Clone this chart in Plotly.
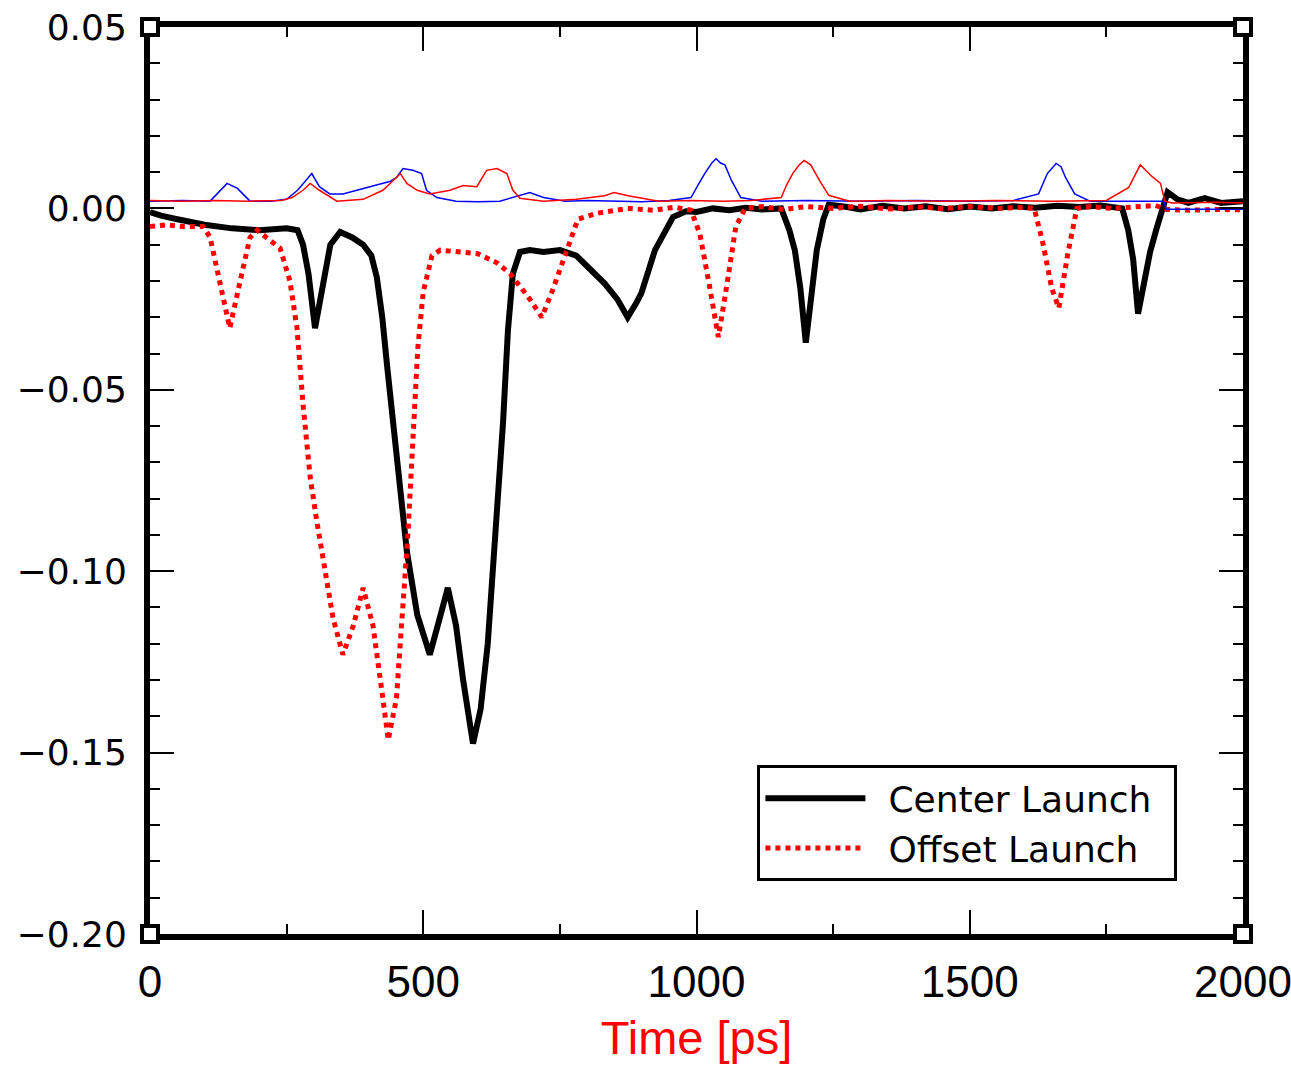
import plotly.graph_objects as go

# Center Launch (black, thick)
center_t = [0, 20, 50, 100, 150, 200, 250, 270, 280, 290, 302, 315, 330, 348, 370, 390, 405, 415, 425,
            434, 452, 470, 489, 512, 530, 545, 560, 573, 591, 605, 618, 635, 646, 655, 664, 677, 695, 720,
            750, 780, 800, 832, 855, 874, 890, 899, 924, 957, 981, 1000, 1030, 1060, 1090, 1120, 1155, 1170,
            1180, 1190, 1200, 1210, 1220, 1232, 1242, 1270, 1300, 1340, 1380, 1420, 1460, 1500, 1540, 1580,
            1620, 1660, 1700, 1740, 1779, 1790, 1799, 1808, 1820, 1830, 1841, 1857, 1862, 1880, 1900, 1930,
            1960, 2000]
center_v = [-0.001, -0.002, -0.003, -0.0045, -0.0055, -0.006, -0.0055, -0.006, -0.010, -0.018, -0.033,
            -0.022, -0.010, -0.0065, -0.008, -0.010, -0.013, -0.019, -0.030, -0.0436, -0.069, -0.0945,
            -0.112, -0.123, -0.113, -0.1046, -0.115, -0.130, -0.1475, -0.138, -0.120, -0.084, -0.059,
            -0.0335, -0.018, -0.012, -0.0115, -0.012, -0.0115, -0.013, -0.016, -0.0207, -0.025, -0.030,
            -0.026, -0.0234, -0.0115, -0.0024, -0.0008, -0.001, 0.0, -0.0005, 0.0002, -0.0003, 0.0, -0.006,
            -0.0116, -0.022, -0.037, -0.024, -0.0116, -0.003, 0.001, 0.0005, -0.0003, 0.0007, 0.0, 0.0006,
            -0.0002, 0.0005, 0.0, 0.0006, 0.0002, 0.0007, 0.0004, 0.0008, 0.0, -0.006, -0.014, -0.029,
            -0.020, -0.012, -0.006, 0.002, 0.0045, 0.0025, 0.0015, 0.0028, 0.0015, 0.002]

# Offset Launch (red, thick dotted)
offset_t = [0, 30, 60, 97, 110, 128, 146, 165, 183, 196, 220, 238, 256, 269, 280, 293, 305, 317, 335, 353,
            372, 390, 408, 426, 436, 451, 463, 472, 481, 490, 500, 516, 531, 560, 600, 635, 659, 695, 717,
            738, 763, 783, 816, 874, 920, 960, 990, 1006, 1023, 1040, 1056, 1072, 1089, 1120, 1160, 1200,
            1250, 1300, 1350, 1400, 1450, 1500, 1550, 1600, 1618, 1634, 1650, 1663, 1680, 1696, 1720, 1760,
            1800, 1840, 1860, 1900, 1950, 2000]
offset_v = [-0.005, -0.0045, -0.005, -0.005, -0.008, -0.021, -0.033, -0.020, -0.008, -0.006, -0.009,
            -0.011, -0.020, -0.033, -0.054, -0.074, -0.086, -0.0975, -0.113, -0.123, -0.115, -0.1046,
            -0.115, -0.135, -0.1465, -0.135, -0.110, -0.0896, -0.064, -0.0385, -0.023, -0.013, -0.0115,
            -0.012, -0.0125, -0.015, -0.018, -0.025, -0.030, -0.022, -0.011, -0.003, -0.0014, 0.0,
            -0.0005, 0.0003, -0.0005, -0.007, -0.0207, -0.0355, -0.0207, -0.005, 0.0, 0.0005, -0.0003,
            0.0005, 0.0, 0.0006, -0.0002, 0.0004, 0.0, 0.0005, 0.0, 0.0003, 0.0, -0.0097, -0.022, -0.0275,
            -0.012, 0.0, 0.0005, 0.0, 0.0004, 0.0008, -0.0003, -0.0005, -0.0003, -0.0004]

# Thin blue trace
blue_t = [0, 60, 110, 125, 141, 160, 183, 220, 250, 270, 285, 296, 310, 329, 353, 390, 426, 440, 451, 463,
          481, 497, 506, 525, 560, 600, 640, 695, 720, 760, 800, 850, 900, 950, 990, 1003, 1015, 1028, 1036,
          1044, 1052, 1064, 1081, 1120, 1200, 1300, 1400, 1500, 1580, 1626, 1642, 1658, 1667, 1675, 1692,
          1720, 1780, 1840, 1855, 1860, 1900, 2000]
blue_v = [0.002, 0.0022, 0.002, 0.0045, 0.0069, 0.0055, 0.002, 0.002, 0.0025, 0.005, 0.0075, 0.0096, 0.006,
          0.004, 0.004, 0.0055, 0.0069, 0.0075, 0.0085, 0.011, 0.0105, 0.0096, 0.005, 0.003, 0.002, 0.0018,
          0.002, 0.0044, 0.003, 0.002, 0.0022, 0.002, 0.0018, 0.0022, 0.003, 0.0065, 0.0096, 0.0125, 0.0137,
          0.0125, 0.012, 0.0077, 0.003, 0.002, 0.0022, 0.002, 0.0022, 0.002, 0.0022, 0.004, 0.0096, 0.0124,
          0.0115, 0.0086, 0.004, 0.002, 0.002, 0.0022, 0.002, -0.0002, -0.0002, -0.0002]

# Thin red trace
red_t = [0, 60, 120, 180, 240, 260, 280, 293, 310, 342, 390, 426, 451, 458, 470, 489, 512, 549, 573, 598,
         616, 635, 653, 664, 677, 720, 780, 832, 849, 875, 931, 990, 1050, 1100, 1155, 1165, 1176, 1188,
         1197, 1209, 1225, 1242, 1280, 1350, 1450, 1550, 1650, 1750, 1791, 1802, 1812, 1822, 1832, 1849,
         1857, 1870, 1950, 2000]
red_v = [0.0022, 0.002, 0.0022, 0.002, 0.0022, 0.003, 0.005, 0.0069, 0.005, 0.002, 0.0025, 0.005, 0.0085,
         0.0096, 0.0069, 0.005, 0.004, 0.005, 0.0063, 0.006, 0.0105, 0.011, 0.0096, 0.005, 0.0028, 0.002,
         0.0025, 0.0035, 0.0044, 0.0035, 0.002, 0.0022, 0.002, 0.0022, 0.003, 0.0065, 0.0096, 0.012, 0.0132,
         0.012, 0.0077, 0.0036, 0.002, 0.0022, 0.002, 0.0022, 0.002, 0.0022, 0.0058, 0.009, 0.012, 0.0105,
         0.009, 0.0069, 0.002, 0.0015, 0.0017, 0.0015]

x_ticks = [0, 500, 1000, 1500, 2000]
y_ticks = [0.05, 0.0, -0.05, -0.10, -0.15, -0.20]
y_tick_labels = ["0.05", "0.00", "\u22120.05", "\u22120.10", "\u22120.15", "\u22120.20"]
series_names = ["Center Launch", "Offset Launch"]

fig = go.Figure()
fig.add_trace(go.Scatter(x=center_t, y=center_v, mode="lines", name="\u2002" + series_names[0] + "\u2002",
                         line=dict(color="black", width=6)))
fig.add_trace(go.Scatter(x=offset_t, y=offset_v, mode="lines", name="\u2002" + series_names[1] + "\u2002",
                         line=dict(color="#ff0000", width=5, dash="dot")))
fig.add_trace(go.Scatter(x=blue_t, y=blue_v, mode="lines", showlegend=False,
                         line=dict(color="#0000ff", width=1.5)))
fig.add_trace(go.Scatter(x=red_t, y=red_v, mode="lines", showlegend=False,
                         line=dict(color="#ff0000", width=1.5)))

# corner markers
corner_shapes = []
for cx in (0, 1):
    for cy in (0, 1):
        corner_shapes.append(dict(type="rect", xref="paper", yref="paper", xsizemode="pixel",
                                  ysizemode="pixel", xanchor=cx, yanchor=cy, x0=-8, x1=8, y0=-8, y1=8,
                                  fillcolor="white", line=dict(color="black", width=4), layer="above"))

fig.update_layout(
    width=1291, height=1067,
    margin=dict(l=150, r=48, t=27, b=133),
    paper_bgcolor="white", plot_bgcolor="white",
    shapes=corner_shapes,
    legend=dict(x=0.94, y=0.058, xanchor="right", yanchor="bottom",
                bordercolor="black", borderwidth=3, bgcolor="white",
                font=dict(family="DejaVu Sans", size=36, color="black"),
                itemwidth=100, tracegroupgap=0),
    xaxis=dict(range=[0, 2000], tickvals=x_ticks, ticks="inside", ticklen=24, tickwidth=2,
               tickcolor="black", showline=True, linewidth=6, linecolor="black", mirror="ticks",
               showgrid=False, zeroline=False, ticklabeloverflow="allow", automargin=False,
               minor=dict(dtick=250, ticks="inside", ticklen=10, tickwidth=2, tickcolor="black",
                          showgrid=False),
               tickfont=dict(family="Liberation Sans", size=44, color="black"),
               ticklabelstandoff=4,
               title=dict(text="Time [ps]", font=dict(family="Liberation Sans", size=47, color="#ff0000"),
                          standoff=18)),
    yaxis=dict(range=[-0.20, 0.05], tickvals=y_ticks, ticktext=y_tick_labels, ticks="inside",
               ticklen=24, tickwidth=2, tickcolor="black", showline=True, linewidth=6,
               linecolor="black", mirror="ticks", showgrid=False, zeroline=False,
               ticklabeloverflow="allow", automargin=False,
               minor=dict(dtick=0.01, ticks="inside", ticklen=10, tickwidth=2, tickcolor="black",
                          showgrid=False),
               tickfont=dict(family="DejaVu Sans", size=36, color="black"),
               ticklabelstandoff=10),
)

fig.write_html("out.html")
